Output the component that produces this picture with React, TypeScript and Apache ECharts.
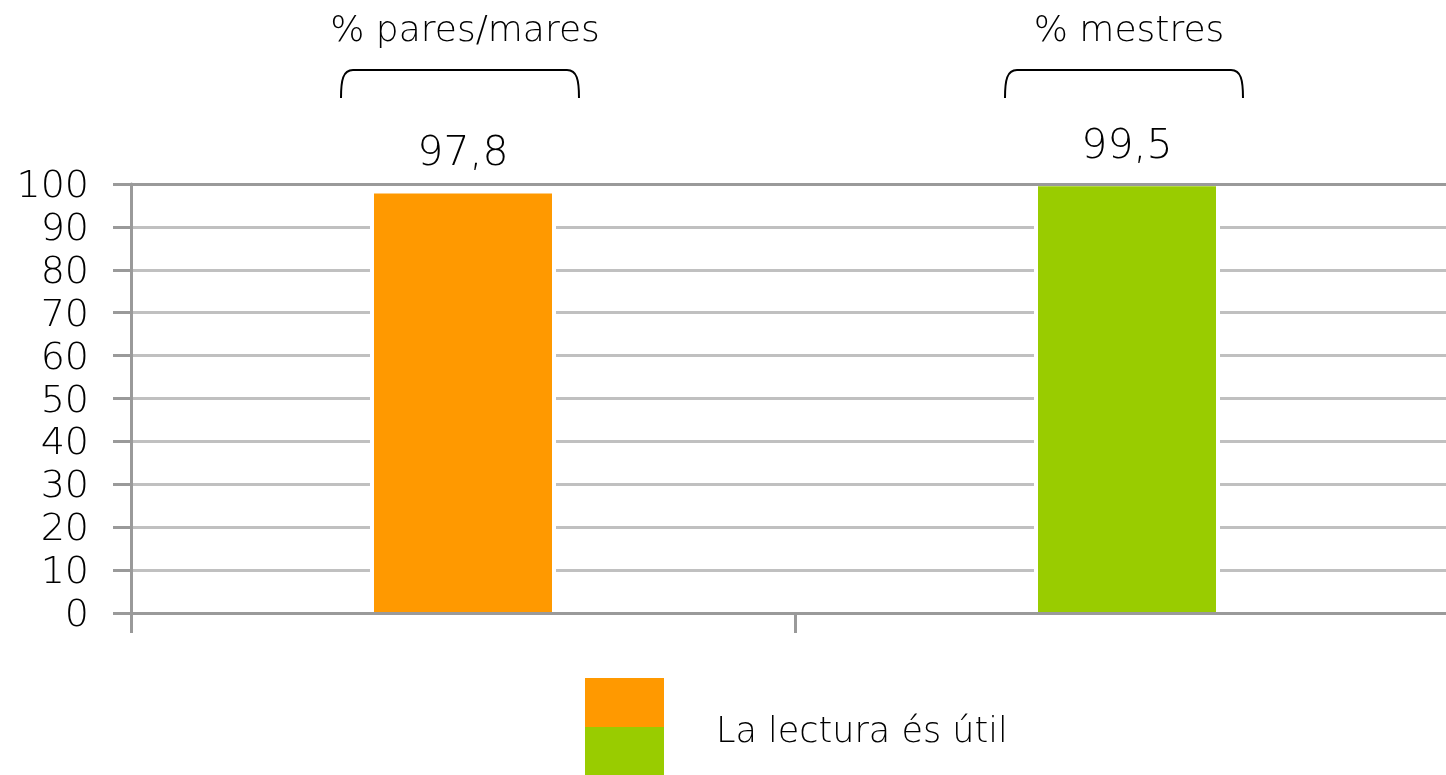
import React, { useEffect, useRef } from "react";
import * as echarts from "echarts";

const categories = ["% pares/mares", "% mestres"];
const values = [97.8, 99.5];
const barColors = ["#FF9900", "#99CC00"];
const seriesName = "La lectura és útil";
const yTicks = { min: 0, max: 100, interval: 10 };

const FONT = "DejaVu Sans";
const WEIGHT = 300;
const BRACE_W = 238;
const BRACE_H = 28;

let registered = false;
function registerBrace() {
  if (registered) return;
  registered = true;
  const d = `M0,${BRACE_H} C0,10 2,0 12,0 L${BRACE_W - 12},0 C${BRACE_W - 2},0 ${BRACE_W},10 ${BRACE_W},${BRACE_H}`;
  echarts.graphic.registerShape("brace", echarts.graphic.extendPath(d, {}) as any);
}

export default function App() {
  const ref = useRef<HTMLDivElement>(null);
  useEffect(() => {
    if (!ref.current) return;
    registerBrace();
    const chart = echarts.init(ref.current, undefined, { renderer: "svg" });
    const gridColors = Array.from({ length: 11 }, (_, i) => (i === 0 || i === 10 ? "#9a9a9a" : "#c0c0c0"));
    chart.setOption({
      animation: false,
      grid: { left: 131, top: 184, width: 1328, height: 429, containLabel: false },
      xAxis: [
        {
          type: "category",
          data: categories,
          z: 5,
          axisLine: { show: true, lineStyle: { color: "#9a9a9a", width: 3 } },
          axisTick: { show: true, length: 20, alignWithLabel: false, lineStyle: { color: "#9a9a9a", width: 3 } },
          axisLabel: { show: false },
          splitLine: { show: false },
        },
        { type: "category", data: categories, show: false },
      ],
      yAxis: {
        type: "value",
        min: yTicks.min,
        max: yTicks.max,
        interval: yTicks.interval,
        axisLine: { show: true, lineStyle: { color: "#9a9a9a", width: 3 } },
        axisTick: { show: true, length: 18, lineStyle: { color: "#9a9a9a", width: 3 } },
        axisLabel: { color: "#000", fontSize: 38, lineHeight: 40, fontFamily: FONT, fontWeight: WEIGHT, margin: 42 },
        splitLine: { show: true, lineStyle: { color: gridColors, width: 3 } },
      },
      series: [
        {
          type: "bar",
          name: "backdrop",
          xAxisIndex: 1,
          silent: true,
          barWidth: 186,
          data: values,
          itemStyle: { color: "#fff" },
        },
        {
          type: "bar",
          name: seriesName,
          xAxisIndex: 0,
          barWidth: 178,
          data: values.map((v, i) => ({ value: v, itemStyle: { color: barColors[i] } })),
          label: {
            show: true,
            position: "top",
            distance: 22,
            color: "#000",
            fontSize: 41,
            fontFamily: FONT,
            fontWeight: WEIGHT,
            formatter: (p: any) => String(p.value).replace(".", ","),
          },
        },
      ],
    });

    const graphics: any[] = [];
    categories.forEach((c) => {
      const cx = chart.convertToPixel({ xAxisIndex: 0 }, c) as number;
      graphics.push({
        type: "text",
        x: cx + 2,
        y: 28,
        style: { text: c, fontSize: 36, fontFamily: FONT, fontWeight: WEIGHT, fill: "#000", align: "center", verticalAlign: "middle" },
      });
      graphics.push({
        type: "brace",
        x: cx - 3 - BRACE_W / 2,
        y: 70,
        style: { stroke: "#000", lineWidth: 2, fill: null },
      });
    });
    graphics.push({ type: "rect", shape: { x: 585, y: 678, width: 79, height: 49 }, style: { fill: barColors[0] } });
    graphics.push({ type: "rect", shape: { x: 585, y: 727, width: 79, height: 48 }, style: { fill: barColors[1] } });
    graphics.push({
      type: "text",
      x: 716,
      y: 730,
      style: { text: seriesName, fontSize: 35, fontFamily: FONT, fontWeight: WEIGHT, fill: "#000", align: "left", verticalAlign: "middle" },
    });
    chart.setOption({ graphic: graphics });

    return () => chart.dispose();
  }, []);
  return <div ref={ref} style={{ position: "fixed", left: 0, top: 0, width: 1460, height: 775 }} />;
}
